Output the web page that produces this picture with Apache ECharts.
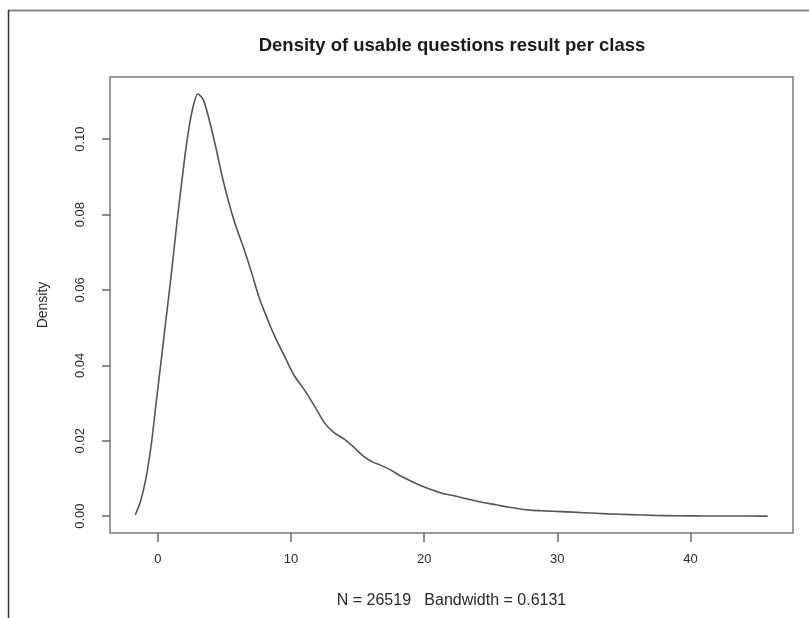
<!DOCTYPE html>
<html>
<head>
<meta charset="utf-8">
<script src="https://cdn.jsdelivr.net/npm/echarts@6/dist/echarts.min.js"></script>
<style>
  html, body { margin: 0; padding: 0; background: #ffffff; }
  #chart { width: 809px; height: 618px; }
</style>
</head>
<body>
<div id="chart"></div>
<script>
// Kernel density estimate of usable questions per class
const xGrid = [
  -1.7, -1.3, -0.9, -0.5, -0.2, 0.2, 0.6, 1.0, 1.4, 1.8, 2.2, 2.6, 3.0, 3.4,
  3.9, 4.4, 4.8, 5.3, 5.8, 6.4, 7.0, 7.6, 8.2, 8.8, 9.5, 10.2, 11.0, 11.8,
  12.5, 13.2, 14.0, 14.7, 15.4, 16.1, 16.8, 17.5, 18.3, 19.3, 20.3, 21.4,
  22.5, 23.4, 24.4, 25.4, 26.3, 27.2, 28.0, 29.0, 30.3, 32.0, 33.8, 35.5,
  37.3, 39.0, 41.0, 43.2, 45.8
];
const density = [
  0.0003, 0.004, 0.010, 0.019, 0.028, 0.040, 0.052, 0.064, 0.077, 0.089,
  0.100, 0.108, 0.112, 0.1105, 0.1045, 0.097, 0.0905, 0.0835, 0.0775, 0.0715,
  0.065, 0.058, 0.0525, 0.0475, 0.0425, 0.0375, 0.0335, 0.029, 0.0248, 0.0222,
  0.0204, 0.0183, 0.016, 0.0144, 0.0134, 0.0122, 0.0105, 0.0088, 0.0073,
  0.006, 0.0052, 0.0044, 0.0036, 0.003, 0.0024, 0.0019, 0.0016, 0.0014,
  0.0012, 0.0009, 0.0006, 0.0004, 0.0002, 0.0001, 0.00005, 0.00002, 0.0
];
const xTicks = [0, 10, 20, 30, 40];
const yTicks = [0, 0.02, 0.04, 0.06, 0.08, 0.10];
const titleText = 'Density of usable questions result per class';
const subText = 'N = 26519   Bandwidth = 0.6131';
const yName = 'Density';

const points = xGrid.map((x, i) => [x, density[i]]);

const chart = echarts.init(document.getElementById('chart'));
const font = 'Liberation Sans, Arial, Helvetica, sans-serif';

chart.setOption({
  animation: false,
  backgroundColor: '#ffffff',
  title: {
    text: titleText,
    left: 447,
    top: 31,
    textAlign: 'center',
    textStyle: { fontFamily: font, fontSize: 18.5, fontWeight: 'bold', color: '#1a1a1a' }
  },
  grid: {
    left: 110, right: 16, top: 77, bottom: 85,
    show: true, borderColor: '#7a7a7a', borderWidth: 1.5, backgroundColor: 'transparent'
  },
  xAxis: {
    type: 'value',
    min: -3.6,
    max: 47.7,
    name: subText,
    nameLocation: 'middle',
    nameGap: 60,
    nameTextStyle: { fontFamily: font, fontSize: 16, color: '#2a2a2a' },
    axisLine: { show: false, onZero: false },
    splitLine: { show: false },
    axisTick: {
      show: true, length: 9, inside: false, customValues: xTicks,
      lineStyle: { color: '#666', width: 1.5 }
    },
    axisLabel: {
      customValues: xTicks, margin: 20,
      fontFamily: font, fontSize: 13, color: '#2a2a2a',
      formatter: v => String(v)
    }
  },
  yAxis: {
    type: 'value',
    min: -0.00448,
    max: 0.1165,
    name: yName,
    nameLocation: 'middle',
    nameGap: 60,
    nameRotate: 90,
    nameTextStyle: { fontFamily: font, fontSize: 14, color: '#2a2a2a' },
    axisLine: { show: false, onZero: false },
    splitLine: { show: false },
    axisTick: {
      show: true, length: 8, inside: false, customValues: yTicks,
      lineStyle: { color: '#666', width: 1.5 }
    },
    axisLabel: {
      customValues: yTicks, rotate: 90, margin: 23,
      align: 'center', verticalAlign: 'bottom',
      fontFamily: font, fontSize: 13, color: '#2a2a2a',
      formatter: v => v.toFixed(2)
    }
  },
  graphic: [
    { type: 'line', shape: { x1: 8, y1: 10.5, x2: 809, y2: 10.5 }, style: { stroke: '#8a8a8a', lineWidth: 2 } },
    { type: 'line', shape: { x1: 8.5, y1: 10, x2: 8.5, y2: 618 }, style: { stroke: '#333333', lineWidth: 1.5 } }
  ],
  series: [{
    type: 'line',
    data: points,
    smooth: 0.3,
    showSymbol: false,
    lineStyle: { color: '#555555', width: 1.6 }
  }]
});
</script>
</body>
</html>
